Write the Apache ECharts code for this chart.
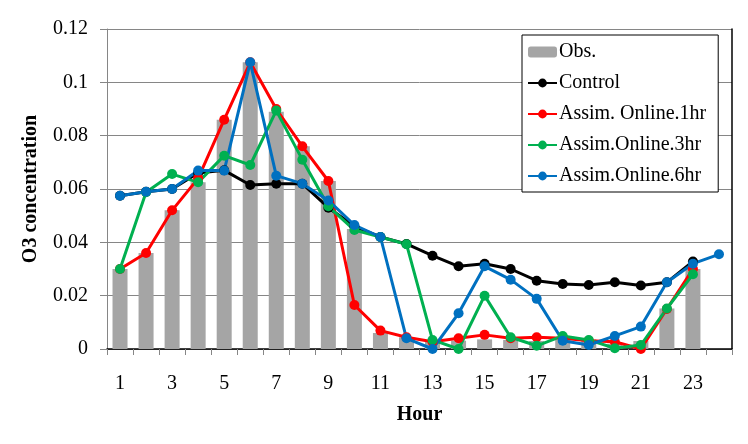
<!DOCTYPE html>
<html>
<head>
<meta charset="utf-8">
<script src="https://cdn.jsdelivr.net/npm/echarts@6/dist/echarts.min.js"></script>
<style>
html,body{margin:0;padding:0;background:#fff;}
#chart{width:748px;height:444px;}
</style>
</head>
<body>
<div id="chart"></div>
<script>
const hours = ['1','2','3','4','5','6','7','8','9','10','11','12','13','14','15','16','17','18','19','20','21','22','23','24'];
const obs = [0.030, 0.036, 0.052, 0.0625, 0.086, 0.1075, 0.089, 0.076, 0.063, 0.045, 0.006, 0.0044, 0.003, 0.0031, 0.0036, 0.0034, 0.003, 0.0034, 0.0036, 0.002, 0.003, 0.0152, 0.030, null];
const control = [0.0575, 0.059, 0.060, 0.066, 0.067, 0.0615, 0.062, 0.062, 0.053, 0.046, 0.042, 0.0394, 0.035, 0.031, 0.032, 0.030, 0.0256, 0.0244, 0.024, 0.025, 0.0238, 0.025, 0.0328, null];
const online1hr = [0.030, 0.036, 0.052, 0.064, 0.086, 0.1075, 0.090, 0.076, 0.063, 0.0165, 0.0069, 0.0044, 0.0027, 0.004, 0.0053, 0.004, 0.0044, 0.004, 0.0031, 0.0027, 0, 0.015, 0.030, null];
const online3hr = [0.030, 0.0588, 0.0656, 0.0625, 0.0725, 0.069, 0.0894, 0.071, 0.0535, 0.0446, 0.042, 0.0393, 0.0034, 0, 0.020, 0.0044, 0.0012, 0.0049, 0.0034, 0.0003, 0.0015, 0.0152, 0.028, null];
const online6hr = [0.0575, 0.059, 0.060, 0.0669, 0.0669, 0.1075, 0.065, 0.062, 0.0557, 0.0465, 0.042, 0.004, 0, 0.0134, 0.031, 0.026, 0.0188, 0.0031, 0.0015, 0.0049, 0.0084, 0.025, 0.032, 0.0355];
const yTicks = {min: 0, max: 0.12, interval: 0.02};

const FONT = '"Liberation Serif", "Times New Roman", serif';
const chart = echarts.init(document.getElementById('chart'), null, {renderer: 'canvas'});

function lineSeries(name, data, color) {
  return {
    name, type: 'line', data,
    symbol: 'circle', symbolSize: 10, showSymbol: true, showAllSymbol: true,
    connectNulls: false,
    lineStyle: {color, width: 3},
    itemStyle: {color},
    emphasis: {disabled: true},
    animation: false,
    z: 3
  };
}

chart.setOption({
  animation: false,
  backgroundColor: '#fff',
  textStyle: {fontFamily: FONT},
  grid: {left: 107, right: 16, top: 29, bottom: 95, containLabel: false},
  legend: {
    orient: 'vertical',
    left: 522, top: 35,
    padding: [7, 12, 6, 5],
    itemGap: 11,
    itemWidth: 29, itemHeight: 11,
    backgroundColor: '#fff',
    borderColor: '#000', borderWidth: 1,
    textStyle: {fontFamily: FONT, fontSize: 20, color: '#000', padding: [0,0,0,-3]},
    data: ['Obs.', 'Control', 'Assim. Online.1hr', 'Assim.Online.3hr', 'Assim.Online.6hr']
  },
  xAxis: [{
    type: 'category', data: hours, boundaryGap: true, position: 'bottom',
    axisLine: {show: true, lineStyle: {color: '#868686', width: 1}},
    axisTick: {show: true, interval: 0, length: 6, alignWithLabel: false, lineStyle: {color: '#868686'}},
    axisLabel: {interval: 1, color: '#000', fontFamily: FONT, fontSize: 20, margin: 25},
    splitLine: {show: false},
    name: 'Hour', nameLocation: 'middle', nameGap: 56,
    nameTextStyle: {fontFamily: FONT, fontSize: 20, fontWeight: 'bold', color: '#000'}
  }, {
    type: 'category', data: hours, position: 'top',
    axisLine: {show: true, lineStyle: {color: '#000', width: 1.5}},
    axisTick: {show: false}, axisLabel: {show: false}, splitLine: {show: false}
  }],
  yAxis: [{
    type: 'value', min: yTicks.min, max: yTicks.max, interval: yTicks.interval,
    axisLine: {show: true, lineStyle: {color: '#868686', width: 1}},
    axisTick: {show: true, length: 7, lineStyle: {color: '#868686'}},
    axisLabel: {color: '#000', fontFamily: FONT, fontSize: 20, margin: 19,
      formatter: v => String(parseFloat(v.toFixed(2)))},
    splitLine: {show: true, lineStyle: {color: '#868686', width: 1}},
    name: 'O3 concentration', nameLocation: 'middle', nameGap: 66, nameRotate: 90,
    nameTextStyle: {fontFamily: FONT, fontSize: 20, fontWeight: 'bold', color: '#000'}
  }, {
    type: 'value', min: yTicks.min, max: yTicks.max, interval: yTicks.interval, position: 'right',
    axisLine: {show: true, lineStyle: {color: '#000', width: 1.5}},
    axisTick: {show: false}, axisLabel: {show: false}, splitLine: {show: false}
  }],
  series: [
    {
      name: 'Obs.', type: 'bar', data: obs, barWidth: 15,
      itemStyle: {color: '#A5A5A5'}, emphasis: {disabled: true}, z: 2
    },
    lineSeries('Control', control, '#000000'),
    lineSeries('Assim. Online.1hr', online1hr, '#FF0000'),
    lineSeries('Assim.Online.3hr', online3hr, '#00B050'),
    lineSeries('Assim.Online.6hr', online6hr, '#0070C0')
  ]
});
</script>
</body>
</html>
